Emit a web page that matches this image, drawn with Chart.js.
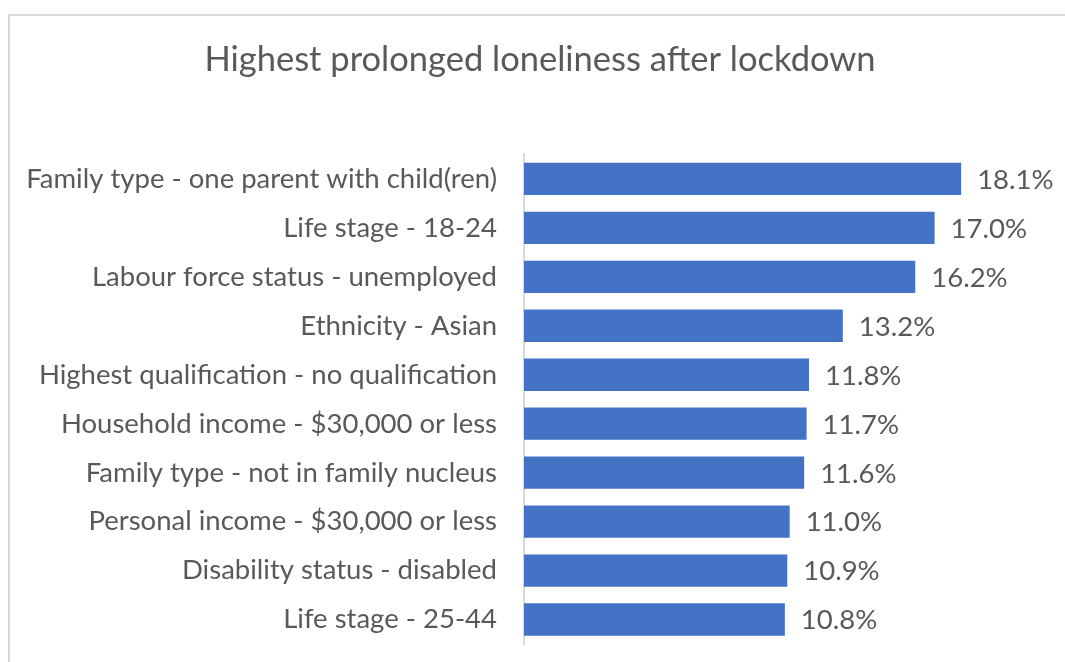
<!DOCTYPE html>
<html>
<head>
<meta charset="utf-8">
<script src="https://cdn.jsdelivr.net/npm/chart.js@4/dist/chart.umd.min.js"></script>
<style>
    html, body { margin: 0; padding: 0; background: #ffffff; overflow: hidden; }
    #wrap { position: relative; width: 1065px; height: 662px; }
    #frame {
        position: absolute;
        left: 8px;
        top: 14px;
        width: 1200px;
        height: 800px;
        border: 2px solid #d9d9d9;
        pointer-events: none;
    }
    #lonelinessChart { position: absolute; left: 0; top: 0; }
</style>
</head>
<body>
<div id="wrap">
    <div id="frame"></div>
    <canvas id="lonelinessChart" width="1065" height="662"></canvas>
</div>
<script>
const CHART_TITLE = 'Highest prolonged loneliness after lockdown';

const groups = [
    'Family type - one parent with child(ren)',
    'Life stage - 18-24',
    'Labour force status - unemployed',
    'Ethnicity - Asian',
    'Highest qualification - no qualification',
    'Household income - $30,000 or less',
    'Family type - not in family nucleus',
    'Personal income - $30,000 or less',
    'Disability status - disabled',
    'Life stage - 25-44'
];

const lonelinessPct = [18.1, 17.0, 16.2, 13.2, 11.8, 11.7, 11.6, 11.0, 10.9, 10.8];

const TEXT_COLOR = '#595959';
const BAR_COLOR = '#4472c4';
const FONT_FAMILY = 'Lato, "Open Sans", sans-serif';
const LABEL_SIZE = 27.5;

// writes the percentage just past the end of each bar
const valueLabels = {
    id: 'valueLabels',
    afterDatasetsDraw(chart) {
        const { ctx } = chart;
        const meta = chart.getDatasetMeta(0);
        ctx.save();
        ctx.fillStyle = TEXT_COLOR;
        ctx.font = `${LABEL_SIZE}px ${FONT_FAMILY}`;
        ctx.textAlign = 'left';
        ctx.textBaseline = 'middle';
        meta.data.forEach((bar, i) => {
            ctx.fillText(lonelinessPct[i].toFixed(1) + '%', bar.x + 16, bar.y + 1);
        });
        ctx.restore();
    }
};

const ctx = document.getElementById('lonelinessChart');
new Chart(ctx, {
    type: 'bar',
    data: {
        labels: groups,
        datasets: [
            {
                label: CHART_TITLE,
                data: lonelinessPct,
                backgroundColor: BAR_COLOR,
                borderWidth: 0,
                barPercentage: 0.66,
                categoryPercentage: 1
            }
        ]
    },
    options: {
        indexAxis: 'y',
        responsive: false,
        animation: false,
        layout: {
            padding: { left: 15, right: 0, top: 0, bottom: 18 }
        },
        plugins: {
            legend: { display: false },
            tooltip: { enabled: false },
            title: {
                display: true,
                text: CHART_TITLE,
                color: TEXT_COLOR,
                font: { family: FONT_FAMILY, size: 34.5, weight: 'normal' },
                padding: { top: 39, bottom: 74 }
            }
        },
        scales: {
            x: {
                display: false,
                min: 0,
                max: 22.4
            },
            y: {
                afterFit: (scale) => {
                    scale.width = 509;
                    scale.paddingTop = 0;
                    scale.paddingBottom = 0;
                },
                border: { display: true, color: '#d9d9d9', width: 2 },
                grid: { display: false, drawTicks: false },
                ticks: {
                    color: TEXT_COLOR,
                    padding: 27,
                    font: { family: FONT_FAMILY, size: LABEL_SIZE }
                }
            }
        }
    },
    plugins: [valueLabels]
});
</script>
</body>
</html>
